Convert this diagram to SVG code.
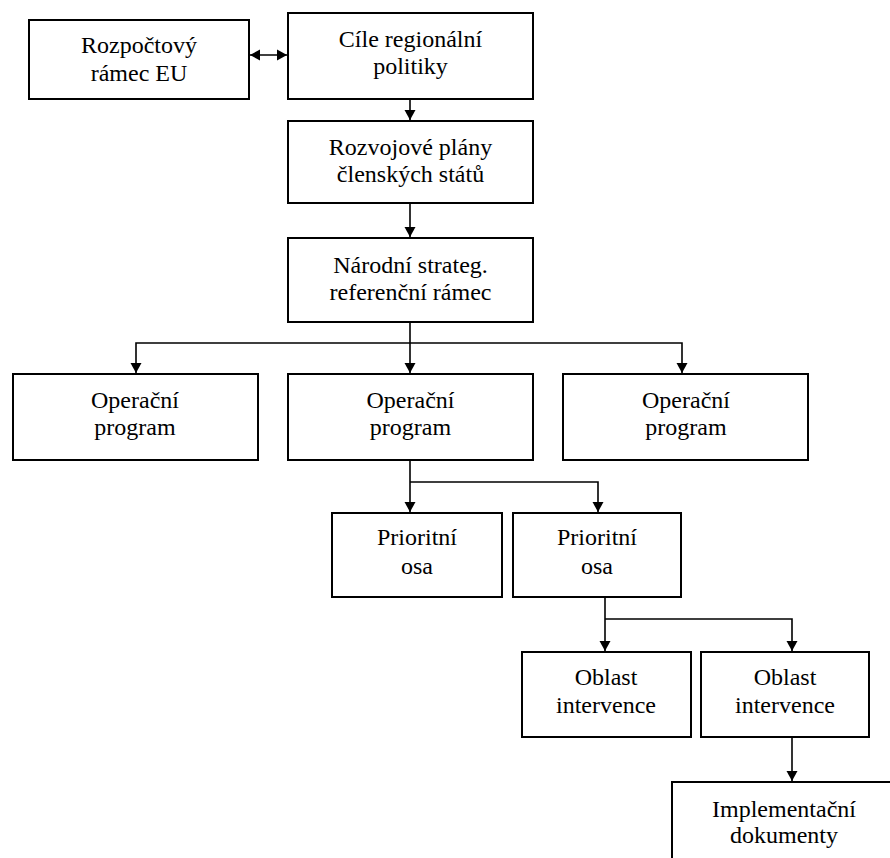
<svg xmlns="http://www.w3.org/2000/svg" width="890" height="858" viewBox="0 0 890 858">
<defs>
<marker id="ah" markerUnits="userSpaceOnUse" markerWidth="11" markerHeight="12" refX="10" refY="6" orient="auto-start-reverse" viewBox="0 0 11 12">
<path d="M0,0.5 L10,6 L0,11.5 z" fill="#000"/>
</marker>
<style>
.box{fill:#fff;stroke:#000;stroke-width:2}
text{font-family:'Liberation Serif','Times New Roman','DejaVu Serif',serif;font-size:24px;fill:#000;text-anchor:middle}
.c{fill:none;stroke:#000;stroke-width:1.6}
</style>
</defs>
<rect width="890" height="858" fill="#fff"/>
<g id="connectors">
<path class="c" d="M250,55 H287" marker-start="url(#ah)" marker-end="url(#ah)"/>
<path class="c" d="M410,99 V120" marker-end="url(#ah)"/>
<path class="c" d="M410,203 V237" marker-end="url(#ah)"/>
<path class="c" d="M410,322 V373" marker-end="url(#ah)"/>
<path class="c" d="M410,343 H136 V373" marker-end="url(#ah)"/>
<path class="c" d="M410,343 H682 V373" marker-end="url(#ah)"/>
<path class="c" d="M410,460 V512" marker-end="url(#ah)"/>
<path class="c" d="M410,482 H598 V512" marker-end="url(#ah)"/>
<path class="c" d="M605,597 V651" marker-end="url(#ah)"/>
<path class="c" d="M605,619 H792 V651" marker-end="url(#ah)"/>
<path class="c" d="M792,737 V781" marker-end="url(#ah)"/>
</g>
<g id="rozpoctovy">
<rect class="box" x="29" y="20" width="220" height="79"/>
<text x="139" y="53">Rozpočtový</text>
<text x="139" y="81">rámec EU</text>
</g>
<g id="cile">
<rect class="box" x="288" y="13" width="245" height="86"/>
<text x="410.5" y="47">Cíle regionální</text>
<text x="410.5" y="74">politiky</text>
</g>
<g id="rozvojove">
<rect class="box" x="288" y="121" width="245" height="82"/>
<text x="410.5" y="155">Rozvojové plány</text>
<text x="410.5" y="182">členských států</text>
</g>
<g id="narodni">
<rect class="box" x="288" y="238" width="245" height="84"/>
<text x="410.5" y="273">Národní strateg.</text>
<text x="410.5" y="300">referenční rámec</text>
</g>
<g id="op1">
<rect class="box" x="13" y="374" width="245" height="86"/>
<text x="135" y="408">Operační</text>
<text x="135" y="435">program</text>
</g>
<g id="op2">
<rect class="box" x="288" y="374" width="245" height="86"/>
<text x="410.5" y="408">Operační</text>
<text x="410.5" y="435">program</text>
</g>
<g id="op3">
<rect class="box" x="563" y="374" width="245" height="86"/>
<text x="686" y="408">Operační</text>
<text x="686" y="435">program</text>
</g>
<g id="pa1">
<rect class="box" x="332" y="513" width="170" height="84"/>
<text x="417" y="545">Prioritní</text>
<text x="417" y="574">osa</text>
</g>
<g id="pa2">
<rect class="box" x="513" y="513" width="168" height="84"/>
<text x="597" y="545">Prioritní</text>
<text x="597" y="574">osa</text>
</g>
<g id="oi1">
<rect class="box" x="522" y="652" width="169" height="85"/>
<text x="606" y="685">Oblast</text>
<text x="606" y="713">intervence</text>
</g>
<g id="oi2">
<rect class="box" x="701" y="652" width="168" height="85"/>
<text x="785" y="685">Oblast</text>
<text x="785" y="713">intervence</text>
</g>
<g id="impl">
<rect class="box" x="672" y="782" width="225" height="90"/>
<text x="784" y="817">Implementační</text>
<text x="784" y="843">dokumenty</text>
</g>
</svg>
